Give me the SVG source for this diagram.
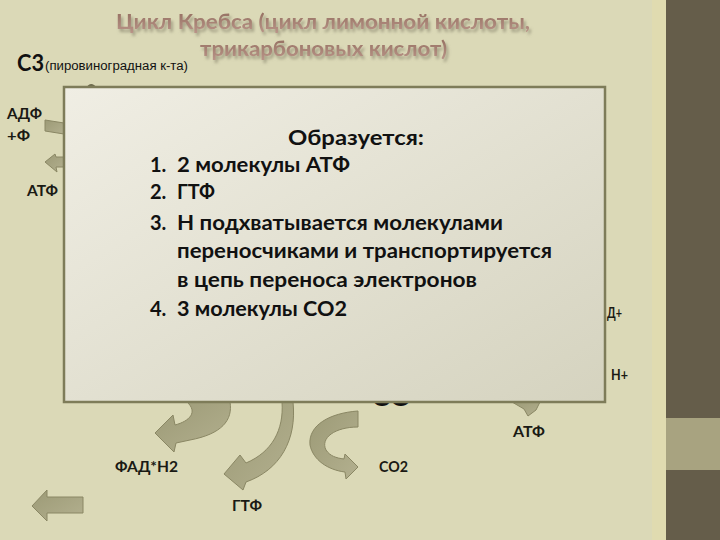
<svg xmlns="http://www.w3.org/2000/svg" width="720" height="540" viewBox="0 0 720 540">
  <defs>
    <linearGradient id="boxFill" x1="0" y1="0" x2="1" y2="1">
      <stop offset="0" stop-color="#F0EEE4"/>
      <stop offset="1" stop-color="#D5D3BF"/>
    </linearGradient>
    <linearGradient id="titleFill" x1="0" y1="0" x2="0" y2="1">
      <stop offset="0" stop-color="#8F6A5B"/>
      <stop offset="1" stop-color="#B99488"/>
    </linearGradient>
    <linearGradient id="arrowFill" x1="0" y1="0" x2="1" y2="1">
      <stop offset="0" stop-color="#9C9A76"/>
      <stop offset="1" stop-color="#B3B08F"/>
    </linearGradient>
    <filter id="shadow" x="-5%" y="-30%" width="110%" height="170%">
      <feGaussianBlur in="SourceAlpha" stdDeviation="1.6"/>
      <feOffset dx="1.5" dy="2.5" result="b"/>
      <feFlood flood-color="#8C8870" flood-opacity="0.75"/>
      <feComposite in2="b" operator="in" result="s"/>
      <feMerge>
        <feMergeNode in="s"/>
        <feMergeNode in="SourceGraphic"/>
      </feMerge>
    </filter>
    <style>
      .title { font-family: Lato, "Open Sans", sans-serif; font-weight: 700; font-size: 21px; fill: url(#titleFill); }
      .body { font-family: Lato, "Open Sans", sans-serif; font-weight: 700; font-size: 20px; fill: #111; }
      .lbl { font-family: Lato, "Open Sans", sans-serif; font-weight: 700; font-size: 15px; fill: #1A1A14; }
      .arrow { fill: url(#arrowFill); stroke: #8A8764; stroke-width: 1; }
    </style>
  </defs>

  <!-- background -->
  <rect x="0" y="0" width="720" height="540" fill="#DBD9B7"/>
  <rect x="652" y="0" width="14" height="540" fill="#E0DBB0"/>
  <rect x="666" y="0" width="54" height="540" fill="#655D4A"/>
  <rect x="666" y="418" width="54" height="52" fill="#A8A380"/>

  <!-- title -->
  <g id="title" filter="url(#shadow)">
    <text class="title" x="116" y="29" textLength="414" lengthAdjust="spacingAndGlyphs">Цикл Кребса (цикл лимонной  кислоты,</text>
    <text class="title" x="200" y="56" textLength="247" lengthAdjust="spacingAndGlyphs">трикарбоновых кислот)</text>
  </g>

  <!-- C3 label -->
  <g id="c3">
    <text x="17" y="71" font-family="Lato, 'Open Sans', sans-serif" font-weight="700" font-size="23" fill="#111" textLength="27" lengthAdjust="spacingAndGlyphs">С3</text>
    <text x="45" y="70" font-family="'Liberation Sans', Arial, sans-serif" font-size="12" fill="#111" textLength="143" lengthAdjust="spacingAndGlyphs">(пировиноградная к-та)</text>
  </g>

  <!-- text partly hidden behind the box -->
  <g id="hidden-labels">
    <text x="371" y="406" font-family="Lato, 'Open Sans', sans-serif" font-weight="900" font-size="28" fill="#111" textLength="41" lengthAdjust="spacingAndGlyphs">СО</text>
  </g>

  <!-- connectors (arrows) -->
  <g id="connectors">
    <path class="arrow" d="M45 120 L64 123 L64 134 L45 131 Z"/>
    <path class="arrow" d="M64 157 L56 157 L55 154 L45 162 L57 172 L56 167 L64 167 Z"/>
    <path d="M86 88 Q91 80 97 88 Z" fill="#6E6B4E"/>
    <path class="arrow" d="M187 402 L230 402 C233 420 222 434 190 440 L176 443 L174 452 L155 433 L173 415 L175 425 C190 421 198 412 187 402 Z"/>
    <path class="arrow" d="M282 402 L293 402 C297 440 280 470 246 482 L243 490 L224 474 L240 455 L246 463 C272 452 284 430 282 402 Z"/>
    <path class="arrow" d="M358 411 L358 427 C335 427 320 438 326 450 C330 456 336 458 344 459 L345 454 L358 467 L346 479 L345 472 C328 470 313 460 310 445 C308 425 330 413 358 411 Z"/>
    <path class="arrow" d="M512 402 L540 402 L536 410 L528 416 L524 409 Z"/>
    <path class="arrow" d="M83 497 L47 497 L47 490 L32 506 L47 521 L47 513 L83 513 Z"/>
  </g>

  <!-- right labels (partly covered by the box) -->
  <g id="right-labels">
    <text class="lbl" x="607" y="318" textLength="15" lengthAdjust="spacingAndGlyphs">Д+</text>
    <text class="lbl" x="611" y="380" textLength="17" lengthAdjust="spacingAndGlyphs">Н+</text>
  </g>

  <!-- main text box -->
  <g id="box">
    <rect x="64" y="87" width="541" height="315" fill="url(#boxFill)" stroke="#7E7C59" stroke-width="2.5"/>
    <text class="body" x="288" y="145" textLength="136" lengthAdjust="spacingAndGlyphs">Образуется:</text>
    <text class="body" x="150" y="172">1.</text>
    <text class="body" x="177" y="172" textLength="173" lengthAdjust="spacingAndGlyphs">2 молекулы АТФ</text>
    <text class="body" x="150" y="199">2.</text>
    <text class="body" x="177" y="199" textLength="38" lengthAdjust="spacingAndGlyphs">ГТФ</text>
    <text class="body" x="150" y="230">3.</text>
    <text class="body" x="177" y="230" textLength="326" lengthAdjust="spacingAndGlyphs">Н подхватывается молекулами</text>
    <text class="body" x="177" y="258" textLength="375" lengthAdjust="spacingAndGlyphs">переносчиками и транспортируется</text>
    <text class="body" x="177" y="287" textLength="300" lengthAdjust="spacingAndGlyphs">в цепь  переноса электронов</text>
    <text class="body" x="150" y="316">4.</text>
    <text class="body" x="177" y="316" textLength="170" lengthAdjust="spacingAndGlyphs">3 молекулы СО2</text>
  </g>

  <!-- outside labels -->
  <g id="label-adf"><text class="lbl" x="7" y="119" textLength="35" lengthAdjust="spacingAndGlyphs">АДФ</text></g>
  <g id="label-f"><text class="lbl" x="7" y="141" textLength="23" lengthAdjust="spacingAndGlyphs">+Ф</text></g>
  <g id="label-atf-left"><text class="lbl" x="27" y="196" textLength="31" lengthAdjust="spacingAndGlyphs">АТФ</text></g>
  <g id="label-fad"><text class="lbl" x="115" y="472" textLength="63" lengthAdjust="spacingAndGlyphs">ФАД*Н2</text></g>
  <g id="label-gtf"><text class="lbl" x="232" y="511" textLength="30" lengthAdjust="spacingAndGlyphs">ГТФ</text></g>
  <g id="label-co2"><text class="lbl" x="379" y="472" textLength="29" lengthAdjust="spacingAndGlyphs">СО2</text></g>
  <g id="label-atf-right"><text class="lbl" x="513" y="437" textLength="32" lengthAdjust="spacingAndGlyphs">АТФ</text></g>
</svg>
